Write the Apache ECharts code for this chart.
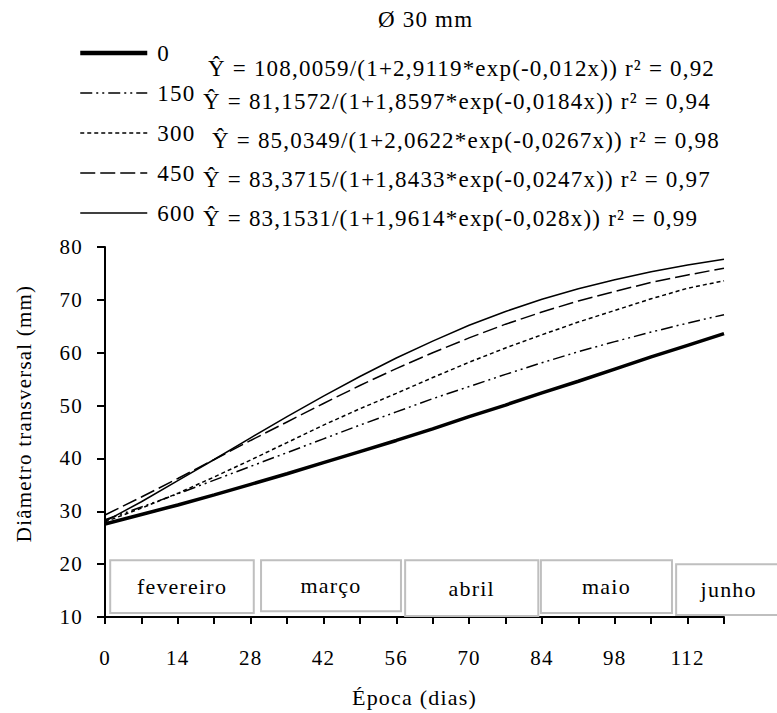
<!DOCTYPE html>
<html>
<head>
<meta charset="utf-8">
<script src="https://cdn.jsdelivr.net/npm/echarts@6/dist/echarts.min.js"></script>
<style>
html,body{margin:0;padding:0;background:#fff;}
#chart{width:777px;height:713px;}
#chart svg text{letter-spacing:1.2px;}
</style>
</head>
<body>
<div id="chart"></div>
<script>
// ---- data ----
const chartTitle = 'Ø 30 mm';
const doses = ['0', '150', '300', '450', '600'];
const equations = [
  'Ŷ = 108,0059/(1+2,9119*exp(-0,012x)) r² = 0,92',
  'Ŷ = 81,1572/(1+1,8597*exp(-0,0184x)) r² = 0,94',
  'Ŷ = 85,0349/(1+2,0622*exp(-0,0267x)) r² = 0,98',
  'Ŷ = 83,3715/(1+1,8433*exp(-0,0247x)) r² = 0,97',
  'Ŷ = 83,1531/(1+1,9614*exp(-0,028x)) r² = 0,99'
];
const days = [0, 7, 14, 21, 28, 35, 42, 49, 56, 63, 70, 77, 84, 91, 98, 105, 112, 119];
const s0   = [27.6, 29.4, 31.2, 33.1, 35.1, 37.1, 39.2, 41.3, 43.4, 45.6, 47.9, 50.1, 52.4, 54.6, 56.9, 59.2, 61.4, 63.6];
const s150 = [28.4, 30.8, 33.3, 35.9, 38.5, 41.1, 43.7, 46.3, 48.8, 51.3, 53.6, 55.9, 58.1, 60.2, 62.1, 63.9, 65.6, 67.2];
const s300 = [28.0, 30.6, 33.4, 36.5, 39.7, 43.0, 46.3, 49.4, 52.3, 55.3, 58.2, 60.9, 63.4, 65.8, 68.0, 70.2, 72.2, 73.6];
const s450 = [29.3, 32.7, 36.2, 39.8, 43.4, 46.9, 50.4, 53.8, 57.0, 60.0, 62.8, 65.4, 67.7, 69.8, 71.6, 73.3, 74.7, 76.0];
const s600 = [28.1, 31.8, 35.8, 39.8, 43.9, 47.9, 51.8, 55.5, 59.0, 62.2, 65.2, 67.8, 70.1, 72.1, 73.8, 75.3, 76.6, 77.7];
const xTicksShown = [0, 14, 28, 42, 56, 70, 84, 98, 112];
const months      = ['fevereiro', 'março', 'abril', 'maio', 'junho'];
const monthStart  = [1.0, 30.0, 57.7, 83.8, 109.8];
const monthEnd    = [28.6, 56.9, 83.3, 109.0, 130.0];
const monthLow    = [10.75, 11.1, 10.2, 10.75, 10.4];
const monthHigh   = [20.75, 20.75, 20.75, 20.75, 20.0];
const xName = 'Época (dias)';
const yName = 'Diâmetro transversal (mm)';

// ---- styles ----
const FONT = '"Liberation Serif", "Times New Roman", serif';
const seriesValues = [s0, s150, s300, s450, s600];
const lineStyles = [
  { width: 3.5, type: 'solid' },
  { width: 1.5, type: [12, 4, 2, 4, 2, 4] },
  { width: 1.5, type: [4, 3] },
  { width: 1.5, type: [15, 5] },
  { width: 1.5, type: 'solid' }
];
const legendWidths = [4.5, 1.6, 1.6, 1.6, 1.6];
const eqLeft = [208, 203, 212, 203, 203];
const eqMid  = [69, 102, 141, 180, 219];

const lineSeries = doses.map((d, i) => ({
  name: d,
  type: 'line',
  symbol: 'none',
  smooth: false,
  data: days.map((x, k) => [x, seriesValues[i][k]]),
  lineStyle: Object.assign({ color: '#000' }, lineStyles[i]),
  itemStyle: { color: '#000' },
  z: 3
}));

const monthSeries = {
  type: 'custom',
  silent: true,
  clip: false,
  z: 1,
  data: months.map((m, i) => [monthStart[i], monthEnd[i], monthLow[i], monthHigh[i], i]),
  renderItem: function (params, api) {
    const p1 = api.coord([api.value(0), api.value(3)]);
    const p2 = api.coord([api.value(1), api.value(2)]);
    const idx = api.value(4);
    return {
      type: 'group',
      children: [
        { type: 'rect', shape: { x: p1[0], y: p1[1], width: p2[0] - p1[0], height: p2[1] - p1[1] },
          style: { fill: '#fff', stroke: '#bfbfbf', lineWidth: 2 } },
        { type: 'text', x: (p1[0] + p2[0]) / 2, y: (p1[1] + p2[1]) / 2,
          style: { text: months[idx], fill: '#000', fontFamily: FONT, fontSize: 22, align: 'center', verticalAlign: 'middle' } }
      ]
    };
  }
};

const titles = [{
  text: chartTitle, left: 378, top: 8, padding: 0,
  textStyle: { fontFamily: FONT, fontSize: 23, fontWeight: 'normal', color: '#000' }
}].concat(equations.map((e, i) => ({
  text: e, left: eqLeft[i], top: eqMid[i] - 12, padding: 0,
  textStyle: { fontFamily: FONT, fontSize: 23, fontWeight: 'normal', color: '#000' }
})));

const chart = echarts.init(document.getElementById('chart'), null, { renderer: 'svg' });
chart.setOption({
  backgroundColor: '#fff',
  animation: false,
  title: titles,
  legend: {
    data: doses.map((d, i) => ({ name: d, lineStyle: { width: legendWidths[i] } })),
    orient: 'vertical',
    left: 78, top: 41, padding: 0,
    itemWidth: 67, itemHeight: 24, itemGap: 16,
    selectedMode: false,
    itemStyle: { opacity: 0, borderWidth: 0 },
    textStyle: { fontFamily: FONT, fontSize: 23, color: '#000', lineHeight: 24, padding: [0, 0, 0, 5] }
  },
  grid: { left: 105, right: 53, top: 247, bottom: 95, containLabel: false },
  xAxis: {
    type: 'value', min: 0, max: 119, interval: 7,
    name: xName, nameLocation: 'middle', nameGap: 69,
    nameTextStyle: { fontFamily: FONT, fontSize: 22, color: '#000' },
    axisLine: { lineStyle: { color: '#000', width: 2 } },
    axisTick: { show: true, inside: false, length: 7, lineStyle: { color: '#000', width: 2 } },
    axisLabel: { margin: 30, fontFamily: FONT, fontSize: 21, color: '#000',
      formatter: v => (xTicksShown.indexOf(v) >= 0 ? String(v) : '') },
    splitLine: { show: false }
  },
  yAxis: {
    type: 'value', min: 10, max: 80, interval: 10,
    name: yName, nameLocation: 'middle', nameGap: 71,
    nameTextStyle: { fontFamily: FONT, fontSize: 21, color: '#000', padding: [0, 0, 0, 37] },
    axisLine: { show: true, lineStyle: { color: '#000', width: 2 } },
    axisTick: { show: true, inside: false, length: 8, lineStyle: { color: '#000', width: 2 } },
    axisLabel: { margin: 22, fontFamily: FONT, fontSize: 21, color: '#000' },
    splitLine: { show: false }
  },
  series: lineSeries.concat([monthSeries])
});
</script>
</body>
</html>
